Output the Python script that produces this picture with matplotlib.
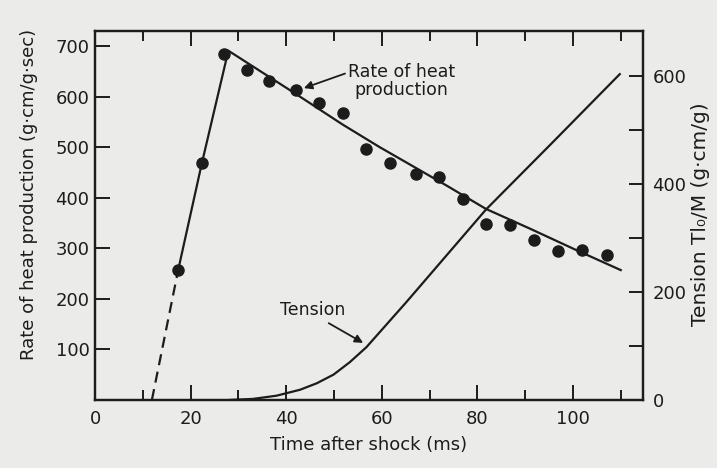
import matplotlib
matplotlib.use("Agg")
import matplotlib.pyplot as plt
from matplotlib.ticker import MultipleLocator

# measured rate of heat production (ms, g·cm/g·sec)
dot_time = [17.4, 22.3, 27.0, 31.9, 36.5, 42.1, 46.8, 51.8, 56.7, 61.7,
            67.2, 72.0, 76.9, 81.8, 86.8, 91.8, 96.8, 102.0, 107.1]
dot_heat = [257, 468, 684, 653, 631, 613, 588, 567, 496, 468,
            447, 441, 397, 349, 347, 317, 294, 296, 286]

# extrapolated onset, drawn dashed
onset_time = [11.9, 17.4]
onset_heat = [0, 257]

# hand-drawn rise and decline through the points
fit_time = [17.4, 22.3, 27.9, 42.1, 51.8, 59.6, 66.6, 73.6, 81.8, 91.0, 100.6, 110.0]
fit_heat = [257, 466, 691, 605, 545, 500, 462, 424, 378, 339, 297, 257]

# tension Tl0/M (g·cm/g), right axis
tension_time = [28.0, 33.0, 38.0, 42.9, 46.4, 49.9, 53.3, 56.8, 60.2, 65.2, 81.8, 95.8, 109.8]
tension_val = [0, 2, 8, 19, 31, 47, 70, 98, 132, 182, 353, 478, 604]

ink = "#1c1c1c"
paper = "#ebebea"

plt.rcParams["font.family"] = ["DejaVu Sans"]
plt.rcParams["text.color"] = ink
plt.rcParams["axes.labelcolor"] = ink
plt.rcParams["xtick.color"] = ink
plt.rcParams["ytick.color"] = ink

fig = plt.figure(figsize=(7.17, 4.68), dpi=100, facecolor=paper)
ax = fig.add_axes([0.1325, 0.1453, 0.7639, 0.7885])
ax.set_facecolor(paper)

ax.plot(onset_time, onset_heat, color=ink, lw=1.6, dashes=(5, 3))
ax.plot(fit_time, fit_heat, color=ink, lw=1.6)
ax.plot(dot_time, dot_heat, "o", color=ink, ms=8, mec=ink)

ax.set_xlim(0, 114.6)
ax.set_ylim(0, 730)
ax.xaxis.set_major_locator(MultipleLocator(20))
ax.xaxis.set_minor_locator(MultipleLocator(10))
ax.set_yticks([100, 200, 300, 400, 500, 600, 700])
ax.tick_params(which="both", direction="in", top=True, right=False,
               width=1.4, labelsize=13, pad=7)
ax.tick_params(which="major", length=11)
ax.tick_params(which="minor", length=7)
ax.tick_params(axis="y", pad=4)
for s in ax.spines.values():
    s.set_linewidth(1.6)
    s.set_color(ink)

ax.set_xlabel("Time after shock (ms)", fontsize=13, labelpad=6)
ax.set_ylabel("Rate of heat production (g·cm/g·sec)", fontsize=13)
ax.yaxis.set_label_coords(-0.104, 0.556)

ax2 = ax.twinx()
ax2.plot(tension_time, tension_val, color=ink, lw=1.6)
ax2.set_ylim(0, 684)
ax2.yaxis.set_major_locator(MultipleLocator(200))
ax2.yaxis.set_minor_locator(MultipleLocator(100))
ax2.tick_params(which="both", direction="in", length=10, width=1.4,
                labelsize=13, pad=7)
for s in ax2.spines.values():
    s.set_linewidth(1.6)
    s.set_color(ink)
ax2.set_ylabel("Tension Tl\u2080/M (g·cm/g)", fontsize=14.5)
ax2.yaxis.set_label_coords(1.088, 0.504)

ax.annotate("Rate of heat\nproduction", xy=(43.7, 617), xytext=(75.3, 632),
            fontsize=12.5, ha="right", va="center", multialignment="center",
            linespacing=1.0,
            arrowprops=dict(arrowstyle="-|>", color=ink, lw=1.3,
                            mutation_scale=12, shrinkA=0, shrinkB=0,
                            relpos=(0.0, 0.72)))
ax.text(45.5, 178, "Tension", fontsize=12.5, ha="center", va="center")
ax.annotate("", xy=(56.1, 113), xytext=(48.9, 152),
            arrowprops=dict(arrowstyle="-|>", color=ink, lw=1.3,
                            mutation_scale=12, shrinkA=0, shrinkB=0))

fig.savefig("out.png", dpi=100, facecolor=paper)
